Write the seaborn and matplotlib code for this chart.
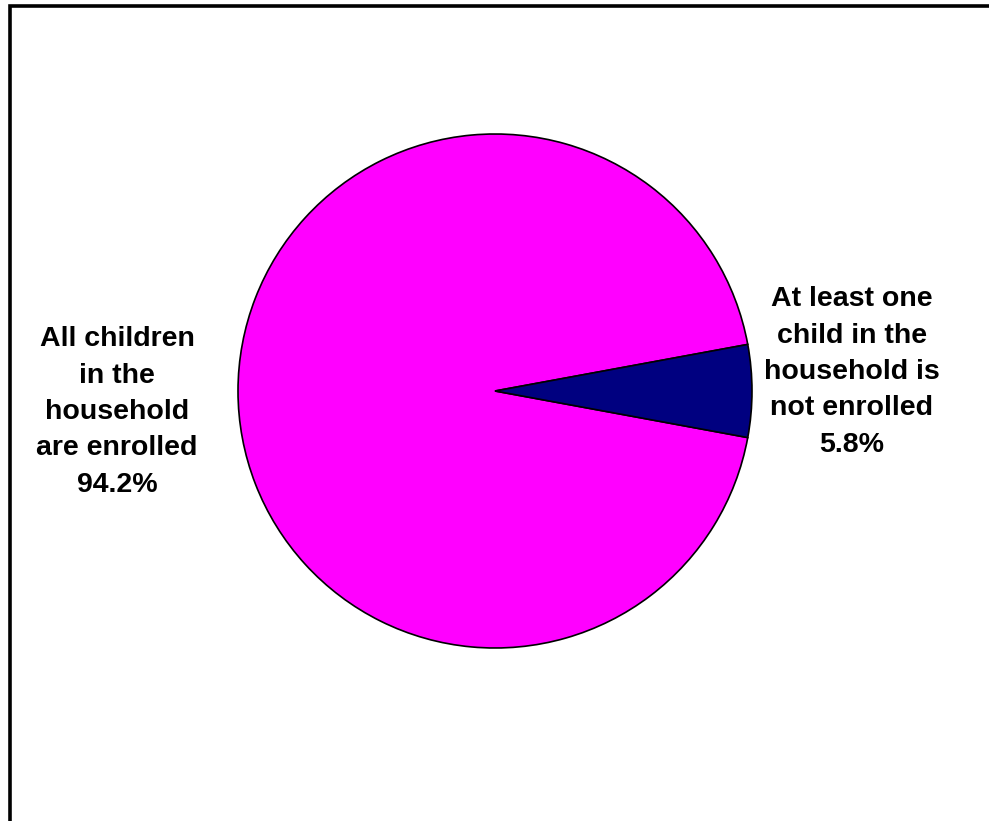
import matplotlib
matplotlib.use("Agg")
import matplotlib.pyplot as plt
from matplotlib.patches import Rectangle
import seaborn as sns

sns.set_theme(style="white")
plt.rcParams["font.family"] = ["Liberation Sans", "DejaVu Sans"]

categories = ["All children\nin the\nhousehold\nare enrolled", "At least one\nchild in the\nhousehold is\nnot enrolled"]
shares = [94.2, 5.8]
colors = ["#FF00FF", "#000080"]

W, H = 989, 821
fig = plt.figure(figsize=(W / 100, H / 100), dpi=100)
fig.patch.set_facecolor("white")

# chart frame, running off the right and bottom edges
fig.patches.append(Rectangle((10 / W, -0.05), 1.1, (H - 6) / H + 0.05,
                             transform=fig.transFigure, fill=False,
                             edgecolor="black", linewidth=2.6))

cx, cy, r = 495, 391, 257
ax = fig.add_axes([(cx - r) / W, (H - cy - r) / H, 2 * r / W, 2 * r / H])
start = 360 * shares[1] / 100 / 2
ax.pie(shares, colors=colors, startangle=start, counterclock=True,
       wedgeprops=dict(edgecolor="black", linewidth=1.2))
ax.set_xlim(-1, 1)
ax.set_ylim(-1, 1)
ax.set_aspect("equal")
ax.axis("off")

label_pos = [(117, 412), (852, 372)]
for (lx, ly), name, v in zip(label_pos, categories, shares):
    fig.text(lx / W, 1 - ly / H, f"{name}\n{v:.1f}%", ha="center", va="center",
             fontsize=20.5, fontweight="bold", color="black", linespacing=1.52)

fig.savefig("out.png", dpi=100, facecolor="white")
